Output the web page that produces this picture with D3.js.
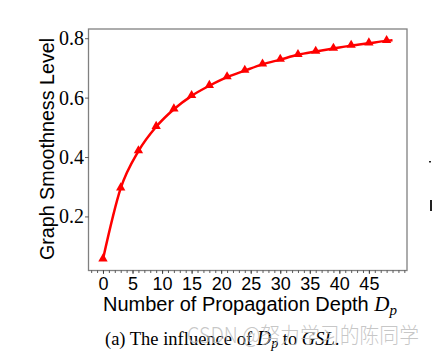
<!DOCTYPE html>
<html><head><meta charset="utf-8">
<script src="https://cdn.jsdelivr.net/npm/d3@7"></script>
<style>html,body{margin:0;padding:0;background:#fff;}svg{display:block;}</style>
</head><body>
<svg id="c" width="432" height="354"></svg>
<script>
const depths = [0, 3, 6, 9, 12, 15, 18, 21, 24, 27, 30, 33, 36, 39, 42, 45, 48];
const smoothness = [0.056, 0.295, 0.420, 0.502, 0.561, 0.606, 0.640, 0.669, 0.691, 0.712, 0.728, 0.744, 0.755, 0.765, 0.775, 0.783, 0.791];
const lineEndDepth = [49];
const lineEndValue = [0.793];
const xTicks = [0, 5, 10, 15, 20, 25, 30, 35, 40, 45];
const yTicks = [0.2, 0.4, 0.6, 0.8];

const svg = d3.select("#c");
const L = 88.5, R = 407, T = 29, B = 270.5;
const x = d3.scaleLinear().domain([-2.45, 51.45]).range([L, R]);
const y = d3.scaleLinear().domain([0.018, 0.831]).range([B, T]);

// frame
svg.append("rect").attr("x", L).attr("y", T).attr("width", R - L).attr("height", B - T)
  .attr("fill", "none").attr("stroke", "#808080").attr("stroke-width", 1.3);

// minor x ticks
const minor = d3.range(-2, 52);
svg.append("g").attr("transform", `translate(0,${B})`)
  .call(d3.axisBottom(x).tickValues(minor).tickSize(2.5).tickFormat(""))
  .call(g => g.select(".domain").remove())
  .call(g => g.selectAll("line").attr("stroke", "#333").attr("stroke-width", 0.8));

// major x ticks
svg.append("g").attr("transform", `translate(0,${B})`)
  .call(d3.axisBottom(x).tickValues(xTicks).tickSize(3.5).tickPadding(3).tickFormat(d3.format("d")))
  .call(g => g.select(".domain").remove())
  .call(g => g.selectAll("line").attr("stroke", "#333").attr("stroke-width", 0.8))
  .call(g => g.selectAll("text").attr("fill", "#000")
    .attr("font-family", "'Liberation Sans', Arial, sans-serif").attr("font-size", 18));

// y ticks
svg.append("g").attr("transform", `translate(${L},0)`)
  .attr("font-family", "'Liberation Serif', 'Times New Roman', serif").attr("font-size", 20)
  .call(d3.axisLeft(y).tickValues(yTicks).tickSize(3.5).tickPadding(1).tickFormat(d3.format(".1f")))
  .call(g => g.select(".domain").remove())
  .call(g => g.selectAll("line").attr("stroke", "#333").attr("stroke-width", 0.8))
  .call(g => g.selectAll("text").attr("fill", "#000")
    .attr("font-family", "'Liberation Serif', 'Times New Roman', serif").attr("font-size", 20));

// line
const pts = depths.map((d, i) => [d, smoothness[i]]).concat(lineEndDepth.map((d, i) => [d, lineEndValue[i]]));
svg.append("path").datum(pts)
  .attr("fill", "none").attr("stroke", "#ff0000").attr("stroke-width", 2.5)
  .attr("d", d3.line().x(d => x(d[0])).y(d => y(d[1])).curve(d3.curveMonotoneX));

// markers
const tri = d3.symbol().type(d3.symbolTriangle).size(38);
svg.append("g").selectAll("path").data(depths).join("path")
  .attr("transform", (d, i) => `translate(${x(d)},${y(smoothness[i]) - 0.5})`)
  .attr("d", tri).attr("fill", "#ff0000");

// x label
const xl = svg.append("text").attr("x", 250).attr("y", 310.5).attr("text-anchor", "middle")
  .attr("fill", "#000").attr("font-family", "'Liberation Sans', Arial, sans-serif").attr("font-size", 20);
xl.append("tspan").text("Number of Propagation Depth ");
xl.append("tspan").text("D").attr("font-family", "'Liberation Serif', serif").attr("font-style", "italic").attr("font-size", 21);
xl.append("tspan").text("p").attr("dy", 4).attr("font-family", "'Liberation Serif', serif").attr("font-style", "italic").attr("font-size", 15);

// y label
svg.append("text").attr("transform", "translate(53.5,149) rotate(-90)").attr("text-anchor", "middle")
  .attr("fill", "#000").attr("font-family", "'Liberation Sans', Arial, sans-serif").attr("font-size", 19.7)
  .text("Graph Smoothness Level");

// caption
const cap = svg.append("text").attr("x", 105).attr("y", 345).attr("fill", "#000")
  .attr("font-family", "'Liberation Serif', 'Times New Roman', serif").attr("font-size", 18.5);
cap.append("tspan").text("(a) The influence of ");
cap.append("tspan").text("D").attr("font-style", "italic").attr("font-size", 20);
cap.append("tspan").text("p").attr("dy", 3).attr("font-style", "italic").attr("font-size", 14);
cap.append("tspan").text(" to ").attr("dy", -3);
cap.append("tspan").text("GSL").attr("font-style", "italic");
cap.append("tspan").text(".");

// watermark
svg.append("text").attr("x", 187).attr("y", 343).attr("fill", "#bdbdbd").attr("fill-opacity", 0.85)
  .attr("textLength", 232).attr("lengthAdjust", "spacingAndGlyphs")
  .attr("font-family", "'Noto Sans CJK SC', 'Noto Sans', sans-serif").attr("font-size", 22).attr("font-weight", 300)
  .text("CSDN @努力学习的陈同学");

// edge fragments of neighbouring panel
svg.append("rect").attr("x", 429).attr("y", 161).attr("width", 2).attr("height", 1.5).attr("fill", "#222");
svg.append("rect").attr("x", 430).attr("y", 200).attr("width", 2).attr("height", 11).attr("fill", "#222");
</script>
</body></html>
